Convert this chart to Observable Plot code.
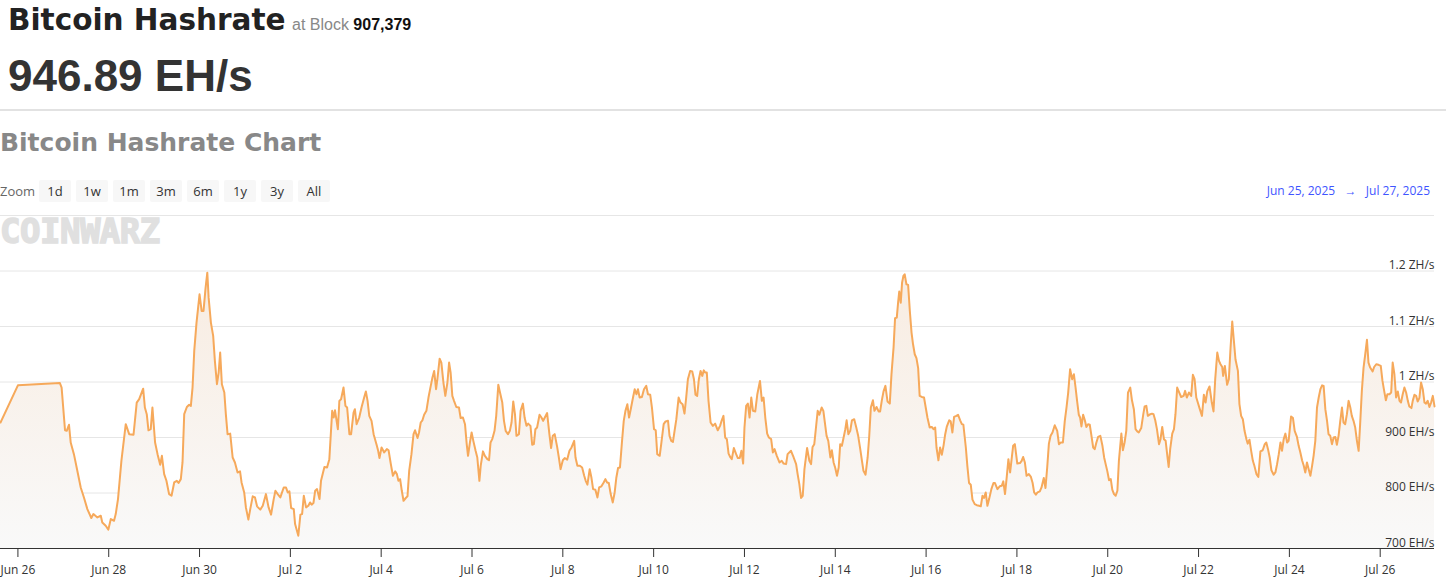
<!DOCTYPE html>
<html>
<head>
<meta charset="utf-8">
<script src="https://cdn.jsdelivr.net/npm/d3@7"></script>
<script src="https://cdn.jsdelivr.net/npm/@observablehq/plot@0.6"></script>
<style>
  html, body { margin: 0; padding: 0; background: #fff; }
  #page { position: relative; width: 1446px; height: 580px; overflow: hidden; font-family: "Open Sans", sans-serif; }
  .abs { position: absolute; white-space: nowrap; }
  #title { left: 8px; top: 0; line-height: 40px; font-family: "DejaVu Sans", sans-serif; font-weight: bold; font-size: 29.5px; color: #222; }
  #title .sub { font-family: "Liberation Sans", Arial, sans-serif; font-weight: normal; font-size: 16px; color: #888; margin-left: 2px; }
  #title .blk { font-family: "Liberation Sans", Arial, sans-serif; font-weight: bold; font-size: 16px; color: #111; }
  #value { left: 8px; top: 51px; line-height: 50px; font-family: "Liberation Sans", Arial, sans-serif; font-weight: bold; font-size: 44px; color: #333; }
  #sep { left: 0; top: 109px; width: 1446px; height: 2px; background: #e2e2e2; }
  #chartTitle { left: 0; top: 128px; line-height: 30px; font-family: "DejaVu Sans", sans-serif; font-weight: bold; font-size: 25px; color: #888; }
  #zoomRow { left: 0; top: 180px; height: 22px; display: flex; align-items: center; font-size: 13px; }
  #zoomRow .lbl { color: #666; margin-right: 5px; width: 34px; }
  #zoomRow .btn { width: 32px; height: 22px; line-height: 22px; text-align: center; background: #f7f7f7; color: #333; margin-right: 5px; border-radius: 2px; }
  #range { right: 16px; top: 180px; line-height: 22px; font-size: 12px; color: #3f55ff; }
  #logo { left: 0; top: 214px; line-height: 34px; font-family: "DejaVu Sans Mono", monospace; font-weight: bold; font-size: 34px; color: #e0e0e0; letter-spacing: -0.5px; -webkit-text-stroke: 1.5px #e0e0e0; }
  #chart { left: 0; top: 205px; }
</style>
</head>
<body>
<div id="page">
  <div class="abs" id="title">Bitcoin Hashrate<span class="sub"> at Block</span><span class="blk"> 907,379</span></div>
  <div class="abs" id="value">946.89 EH/s</div>
  <div class="abs" id="sep"></div>
  <div class="abs" id="chartTitle">Bitcoin Hashrate Chart</div>
  <div class="abs" id="zoomRow"></div>
  <div class="abs" id="range">Jun 25, 2025 &nbsp; → &nbsp; Jul 27, 2025</div>
  <div class="abs" id="chart"></div>
  <div class="abs" id="logo">COINWARZ</div>
</div>
<script>
// ---------- data ----------
const zoomButtons = ["1d", "1w", "1m", "3m", "6m", "1y", "3y", "All"];

// hours since 2025-06-26 00:00 UTC
const hoursSinceJun26 = [
  -9.2, 0, 22.2, 23.1, 24.9, 25.8, 27.0, 27.9, 29.6, 31.4, 33.2, 34.9, 36.7, 38.8, 39.9, 42.0, 43.8, 44.6, 46.4, 47.8,
  49.1, 50.8, 51.7, 52.9, 54.7, 57.0, 58.8, 61.1, 62.8, 64.1, 66.2, 67.1, 68.1, 69.0, 70.2, 71.1, 72.5, 73.8, 75.2, 76.1,
  77.3, 78.5, 79.9, 81.2, 82.6, 84.0, 84.9, 86.1, 87.0, 87.9, 89.3, 90.5, 91.4, 92.3, 93.2, 94.4, 96.0, 97.1, 98.1, 99.2,
  100.1, 100.8, 102.0, 103.2, 104.1, 105.2, 106.1, 106.9, 107.8, 109.1, 109.9, 110.8, 112.2, 113.5, 114.7, 116.1, 117.4, 118.2, 119.6, 120.5,
  121.8, 122.8, 124.1, 125.3, 126.4, 128.1, 129.4, 131.1, 132.5, 133.8, 135.2, 136.1, 137.3, 138.7, 139.6, 140.5, 141.7, 142.6, 143.5, 144.4,
  145.8, 146.5, 148.2, 149.3, 150.2, 151.1, 152.3, 153.5, 154.4, 155.3, 156.2, 157.1, 158.1, 159.4, 160.2, 162.0, 163.4, 164.6, 166.1, 166.9,
  167.6, 169.1, 169.9, 170.8, 172.1, 173.1, 174.0, 175.2, 176.1,
  177.4, 178.1, 179.0, 180.4, 181.6, 183.0, 183.9, 184.8, 185.7, 186.9, 188.0, 189.5, 190.4, 191.1, 192.2, 193.6, 195.0, 195.9, 197.1, 198.2,
  199.4, 200.3, 201.1, 202.0, 202.9, 203.8, 205.0, 205.9, 206.8, 208.0, 209.1, 209.9, 211.2, 212.0, 212.9, 213.8, 214.7, 215.9, 217.0, 218.2,
  219.1, 220.0, 221.0, 221.7, 222.9, 223.8, 224.9, 225.9, 227.0, 227.9, 228.7, 229.6, 230.5, 231.7, 233.1, 234.0, 235.2, 236.3, 237.2, 237.9,
  238.9, 239.8, 240.7, 241.9, 242.8, 243.9, 244.6, 245.8, 246.8, 248.1, 249.0, 249.8, 250.7, 251.9, 252.8, 253.9, 254.8, 256.0, 256.9, 257.8,
  259.0, 260.0, 260.9, 261.8, 262.7, 263.5, 264.8, 265.7, 266.9, 267.8, 268.8, 269.7, 270.9, 271.8, 272.7, 273.5, 274.4, 275.7, 276.7, 277.6,
  278.5, 279.7, 280.9, 281.8, 282.7, 283.7, 285.0, 285.9, 286.8, 288.0, 289.0, 290.3, 291.5,
  292.6, 294.0, 294.7, 295.7, 297.0, 298.2, 299.3, 300.1, 301.0, 302.2, 303.1, 304.0, 305.2, 306.3, 307.2, 308.4, 309.6, 310.5, 311.4, 312.3,
  313.3, 314.4, 315.4, 316.3, 317.2, 318.2, 319.3, 320.2, 321.1, 322.1, 323.0, 323.9, 325.1, 326.0, 326.9, 327.7, 328.6, 329.8, 330.9, 332.1,
  333.0, 334.2, 335.1, 336.2, 337.1, 337.9, 339.2, 340.0, 341.3, 342.3, 343.6, 344.4, 345.3, 346.2, 347.1, 348.0, 349.2, 350.2, 351.3, 352.3,
  353.2, 354.1, 355.3, 356.4, 357.3, 358.1, 359.0, 359.9, 360.8, 361.7, 362.5, 363.2, 364.1, 365.0, 366.1, 367.3, 368.5, 369.9, 371.1, 372.0,
  372.9, 373.8, 374.7, 375.6, 376.6, 377.3, 378.4, 379.6, 380.5, 381.5, 382.4, 383.3, 384.0, 384.9, 385.8, 386.7, 387.6, 388.5, 389.7, 390.8,
  392.2, 393.2, 394.1, 395.0, 396.0, 396.9, 398.1, 399.0, 399.9, 401.1, 402.5, 403.7, 404.7, 406.0, 406.8,
  408.6, 410.0, 411.3, 412.1, 413.0, 413.9, 414.8, 415.7, 417.1, 418.3, 419.2, 420.0, 420.9, 421.8, 422.7, 423.6, 424.8, 425.7, 426.6, 427.4,
  428.3, 429.4, 430.2, 431.1, 432.0, 432.9, 433.8, 434.6, 435.5, 436.4, 437.3, 438.0, 438.9, 439.9, 440.8, 442.0, 443.1, 444.1, 445.2, 446.1,
  446.9, 448.0, 449.1, 449.9, 450.8, 451.9, 452.7, 453.8, 454.9, 455.7, 456.6, 457.5, 458.5, 459.6, 460.8, 461.7, 462.8, 463.6, 464.5, 465.2,
  465.8, 466.6, 467.3, 468.0, 468.7, 469.6, 470.5, 471.4, 472.3, 473.1, 474.0, 474.9, 475.8, 476.6, 477.7, 478.9, 479.8, 480.7, 481.9, 483.0,
  483.9, 484.8, 485.5, 486.5, 487.4, 488.3, 489.2, 490.1, 490.9, 492.2, 493.0, 493.9, 494.8, 496.0, 496.9, 498.0, 498.9, 499.7, 501.0, 501.8,
  502.7, 503.6, 504.5, 505.7, 506.8, 508.0, 508.9, 509.8, 510.6, 511.5, 512.4, 513.3, 514.5, 515.6, 516.4, 517.7, 518.9, 520.0, 520.8, 521.7,
  522.6, 523.5, 524.4,
  526.0, 526.9, 528.2, 529.6, 530.5, 531.3, 532.2, 533.1, 534.3, 535.4, 536.3, 537.1, 538.0, 538.9, 540.1, 541.0, 542.2, 543.1, 544.0, 544.9,
  545.8, 546.8, 548.0, 549.3, 550.2, 551.2, 552.3, 553.3, 554.2, 555.1, 556.1, 557.2, 558.1, 559.0, 559.8, 560.7, 561.4, 562.1, 563.0, 563.9,
  564.7, 565.6, 566.5, 567.4, 568.3, 569.1, 570.0, 570.9, 572.1, 573.2, 574.1, 574.9, 575.8, 576.7, 577.6, 578.4, 579.3, 580.2, 581.1, 581.9,
  583.2, 584.0, 584.9, 585.8, 586.7, 587.9, 588.8, 589.8, 590.7, 591.6, 592.4, 593.7, 594.8, 595.5, 596.4, 597.2, 598.5, 599.4, 600.2, 601.1,
  602.0, 603.1, 603.9, 604.8, 605.7, 606.6, 607.5, 608.2, 609.0, 610.1, 611.0, 611.8, 612.7, 613.8, 614.8, 616.1, 616.9, 617.8, 618.9, 620.1,
  621.0, 621.9, 622.8, 623.6, 624.5, 625.8, 626.8, 627.7, 628.6, 629.8, 631.0, 631.9, 632.8,
  633.9, 634.8, 635.6, 636.5, 637.0, 637.9, 639.1, 640.0, 640.9, 641.8, 642.6, 643.5, 644.8, 645.6, 646.5, 647.4, 648.3, 649.3, 650.0, 650.9,
  651.8, 652.7, 653.5, 654.6, 655.6, 656.7, 657.9, 659.0, 659.8, 660.7, 661.6, 662.5, 663.7, 664.6, 665.5, 666.4, 667.3, 668.1, 669.0, 669.9,
  670.8, 671.6, 672.9, 673.9, 674.8, 676.0, 676.9, 677.8, 678.7, 679.6, 680.4, 681.3, 682.2, 683.1, 684.0, 684.8, 685.7, 686.6, 687.5, 688.4,
  689.3, 690.1, 691.0, 691.9, 692.7, 693.6, 694.5, 695.4, 696.3, 697.1, 698.0, 698.9, 699.8, 700.6, 701.5, 702.4, 703.3, 704.2, 705.0, 705.9,
  706.8, 707.7, 708.6, 709.4, 710.3, 711.2, 712.1, 713.0, 713.8, 714.7, 716.0, 716.8, 717.9, 719.1, 720.3, 721.2, 722.1, 723.0, 723.8, 724.9,
  725.8, 726.6, 727.5, 728.4, 729.3, 730.2, 731.0, 731.9, 732.8, 733.7, 734.6, 735.4, 736.5, 737.2, 738.1, 739.0, 739.8, 740.7, 741.6, 742.5,
  743.4, 744.2, 745.1, 746.0, 746.9, 747.8, 748.7
];

// hashrate in EH/s
const hashrateEH = [
  927, 994, 998, 990, 913, 912, 923, 891, 870, 840, 810, 792, 771, 755, 762, 756, 759, 747, 741, 734,
  753, 750, 762, 789, 858, 924, 906, 905, 963, 969, 988, 954, 942, 913, 915, 954, 891, 870, 851, 867,
  834, 822, 798, 795, 819, 822, 818, 825, 855, 942, 955, 959, 957, 990, 1056, 1107, 1158, 1128, 1128, 1170,
  1197, 1152, 1107, 1083, 1038, 996, 1017, 1053, 996, 981, 942, 906, 907, 864, 855, 837, 839, 819, 801, 774,
  752, 771, 794, 792, 776, 770, 777, 798, 774, 761, 789, 804, 798, 792, 801, 810, 810, 801, 803, 773,
  771, 744, 723, 761, 762, 795, 774, 777, 783, 779, 782, 804, 807, 789, 822, 847, 846, 861, 948, 936,
  949, 915, 966, 969, 990, 957, 954, 906, 906,
  945, 951, 924, 936, 954, 972, 983, 966, 939, 930, 906, 888, 876, 863, 882, 873, 879, 877, 852, 831,
  839, 834, 822, 825, 804, 786, 791, 794, 840, 870, 906, 913, 899, 909, 927, 931, 941, 948, 972, 993,
  1008, 1020, 987, 1005, 1042, 1035, 999, 975, 999, 1035, 1017, 975, 966, 955, 954, 935, 936, 924, 888, 867,
  891, 909, 894, 876, 864, 822, 849, 875, 867, 861, 859, 891, 897, 912, 939, 995, 981, 963, 930, 912,
  906, 912, 927, 965, 942, 903, 906, 948, 961, 936, 921, 925, 921, 887, 888, 915, 918, 941, 936, 930,
  936, 944, 906, 881, 903, 906, 883, 864, 843, 859, 863, 860, 876,
  882, 894, 864, 849, 849, 846, 831, 822, 815, 843, 828, 807, 806, 792, 810, 812, 819, 825, 819, 818,
  798, 783, 801, 828, 845, 846, 894, 930, 948, 960, 936, 951, 972, 987, 978, 987, 972, 973, 987, 993,
  978, 977, 954, 915, 913, 870, 867, 888, 924, 929, 930, 903, 894, 892, 913, 933, 972, 963, 960, 943,
  972, 1005, 1020, 1019, 1005, 977, 975, 1005, 1020, 1011, 1021, 1017, 1017, 966, 927, 921, 925, 913, 921, 931,
  939, 900, 897, 871, 864, 861, 881, 870, 863, 863, 876, 853, 918, 957, 961, 936, 972, 948, 947, 978,
  1002, 966, 972, 936, 907, 900, 897, 873, 879, 867, 855, 858, 853, 852, 870,
  876, 864, 852, 834, 816, 791, 795, 843, 881, 858, 852, 883, 888, 918, 948, 941, 954, 948, 924, 903,
  894, 864, 877, 855, 845, 831, 846, 888, 885, 900, 915, 931, 906, 912, 931, 933, 918, 903, 879, 858,
  840, 833, 864, 900, 954, 967, 948, 955, 947, 947, 967, 983, 993, 965, 961, 1014, 1062, 1115, 1116, 1143,
  1163, 1143, 1179, 1191, 1194, 1176, 1175, 1128, 1089, 1068, 1050, 1043, 1025, 975, 973, 972, 954, 936, 918, 919,
  915, 918, 882, 859, 882, 869, 885, 906, 919, 931, 929, 909, 937, 939, 941, 931, 924, 923, 882, 849,
  818, 815, 788, 780, 778, 777, 776, 795, 791, 801, 777, 789, 807, 818, 818, 807, 812, 813, 821, 798,
  828, 861, 837,
  885, 888, 853, 854, 858, 865, 855, 831, 834, 829, 818, 801, 797, 801, 803, 810, 827, 809, 846, 889,
  903, 909, 922, 912, 888, 891, 891, 930, 954, 981, 1023, 1005, 1014, 990, 966, 941, 936, 920, 941, 931,
  919, 924, 923, 903, 882, 879, 891, 901, 903, 885, 864, 852, 839, 823, 825, 806, 798, 795, 804, 858,
  907, 877, 891, 912, 981, 990, 967, 951, 915, 911, 909, 917, 942, 956, 957, 939, 942, 943, 942, 931,
  915, 888, 897, 919, 897, 894, 867, 847, 879, 907, 915, 942, 990, 981, 973, 975, 984, 972, 981, 975,
  1013, 1005, 972, 963, 953, 939, 977, 963, 983, 992, 963, 947, 1005,
  1053, 1038, 1032, 1027, 1011, 1029, 995, 1005, 1061, 1109, 1077, 1041, 1020, 960, 939, 933, 912, 897, 889, 896,
  876, 858, 849, 834, 829, 875, 877, 888, 891, 879, 864, 841, 833, 837, 852, 870, 891, 876, 897, 907,
  891, 894, 938, 935, 912, 901, 885, 873, 859, 849, 837, 855, 843, 831, 849, 867, 894, 954, 972, 987,
  994, 993, 951, 930, 906, 903, 888, 900, 901, 887, 903, 930, 954, 927, 924, 942, 966, 954, 939, 930,
  918, 894, 876, 924, 984, 1026, 1050, 1076, 1035, 1026, 1019, 1027, 1032, 1031, 1029, 1002, 984, 967, 978, 978,
  981, 1035, 1014, 972, 983, 966, 963, 978, 990, 981, 966, 956, 953, 966, 977, 975, 965, 971, 999, 987,
  963, 961, 966, 955, 963, 975, 956
];

const xTickLabels = ["Jun 26", "Jun 28", "Jun 30", "Jul 2", "Jul 4", "Jul 6", "Jul 8", "Jul 10",
  "Jul 12", "Jul 14", "Jul 16", "Jul 18", "Jul 20", "Jul 22", "Jul 24", "Jul 26"];
const yTicks = [700, 800, 900, 1000, 1100, 1200];
const yTickLabels = ["700 EH/s", "800 EH/s", "900 EH/s", "1 ZH/s", "1.1 ZH/s", "1.2 ZH/s"];
const gridValues = [800, 900, 1000, 1100, 1200, 1300];

// ---------- build ----------
const zr = document.getElementById("zoomRow");
zr.innerHTML = `<span class="lbl">Zoom</span>` + zoomButtons.map(b => `<span class="btn">${b}</span>`).join("");

const base = Date.UTC(2025, 5, 26);
const n = Math.min(hoursSinceJun26.length, hashrateEH.length);
const data = [];
for (let i = 0; i < n; i++) data.push({t: new Date(base + hoursSinceJun26[i] * 3600e3), v: hashrateEH[i]});

const parseTick = d3.utcParse("%b %d %Y");
const xTickDates = xTickLabels.map(s => parseTick(s + " 2025"));
const yLabelData = yTicks.map((v, i) => ({v, label: yTickLabels[i]}));

const defs = () => {
  const d = d3.create("svg:defs");
  const g = d.append("linearGradient").attr("id", "hashGrad")
    .attr("x1", 0).attr("y1", 0).attr("x2", 0).attr("y2", 1);
  g.append("stop").attr("offset", "0%").attr("stop-color", "#f8ece1");
  g.append("stop").attr("offset", "100%").attr("stop-color", "#f9f9f9");
  return d.node();
};

const chart = Plot.plot({
  width: 1446,
  height: 375,
  marginTop: 10,
  marginBottom: 32,
  marginLeft: 0,
  marginRight: 12,
  style: {fontFamily: "'Open Sans', sans-serif", fontSize: "12px", color: "#333", background: "transparent", overflow: "visible"},
  x: {type: "utc", domain: d3.extent(data, d => d.t), axis: null, label: null},
  y: {domain: [700, 1300], axis: null, label: null},
  marks: [
    defs,
    Plot.ruleY(gridValues, {stroke: "#e6e6e6", strokeWidth: 1}),
    Plot.areaY(data, {x: "t", y1: 700, y2: "v", fill: "url(#hashGrad)", curve: "linear"}),
    Plot.lineY(data, {x: "t", y: "v", stroke: "#f6a95b", strokeWidth: 2, curve: "linear"}),
    Plot.ruleY([700], {stroke: "#333", strokeWidth: 1}),
    Plot.axisX(xTickDates, {tickFormat: d3.utcFormat("%b %-d"), tickSize: 9, tickPadding: 8, stroke: "#333", fill: "#333", fontSize: 12, label: null}),
    Plot.text(yLabelData, {y: "v", text: "label", frameAnchor: "right", textAnchor: "end", lineAnchor: "bottom", dy: -2, fill: "#333", fontSize: 12})
  ]
});
document.getElementById("chart").appendChild(chart);
</script>
</body>
</html>
